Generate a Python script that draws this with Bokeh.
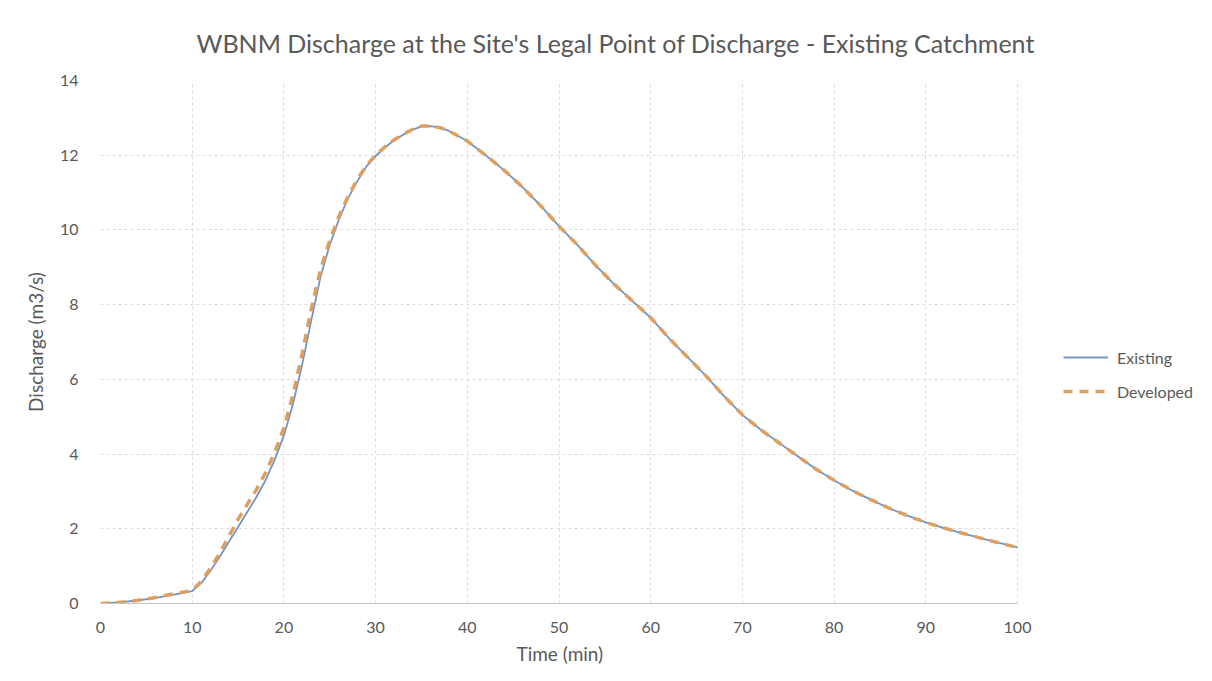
from bokeh.plotting import figure
from bokeh.models import Legend, LegendItem, FixedTicker, Range1d, Title
from bokeh.embed import file_html
from bokeh.resources import INLINE

# Data
time_min = [0, 2, 4, 6, 8, 10, 11, 12, 13, 14, 15, 16, 17, 18, 19, 20, 21, 22, 23, 24,
            25, 26, 27, 28, 29, 30, 31, 32, 33, 34, 35, 36, 37, 38, 40, 42, 44, 46, 48, 50,
            52, 54, 56, 58, 60, 62, 64, 66, 68, 70, 72, 74, 76, 78, 80, 82, 84, 86, 88, 90,
            92, 94, 96, 98, 100]
existing = [0.0, 0.03, 0.08, 0.15, 0.24, 0.33, 0.55, 0.88, 1.25, 1.65, 2.05, 2.45, 2.85, 3.3, 3.85, 4.5, 5.35, 6.4, 7.6, 8.75,
            9.6, 10.28, 10.85, 11.3, 11.7, 11.98, 12.2, 12.4, 12.55, 12.68, 12.77, 12.78, 12.74, 12.65, 12.38, 12.0, 11.6, 11.15, 10.65, 10.1,
            9.6, 9.05, 8.55, 8.1, 7.65, 7.1, 6.6, 6.1, 5.55, 5.05, 4.65, 4.3, 3.95, 3.6, 3.3, 3.02, 2.78, 2.55, 2.35, 2.17,
            2.02, 1.88, 1.75, 1.62, 1.5]
developed = [0.0, 0.03, 0.08, 0.16, 0.26, 0.35, 0.6, 0.95, 1.35, 1.8, 2.25, 2.65, 3.05, 3.5, 4.05, 4.7, 5.6, 6.7, 7.9, 8.95,
             9.72, 10.37, 10.9, 11.35, 11.72, 12.0, 12.22, 12.41, 12.56, 12.69, 12.78, 12.78, 12.74, 12.65, 12.38, 12.0, 11.6, 11.15, 10.65, 10.1,
             9.6, 9.05, 8.55, 8.1, 7.65, 7.1, 6.6, 6.1, 5.55, 5.05, 4.65, 4.3, 3.95, 3.6, 3.3, 3.02, 2.78, 2.55, 2.35, 2.17,
             2.02, 1.88, 1.75, 1.62, 1.5]
x_ticks = [0, 10, 20, 30, 40, 50, 60, 70, 80, 90, 100]
y_ticks = [0, 2, 4, 6, 8, 10, 12, 14]
title_text = "WBNM Discharge at the Site's Legal Point of Discharge - Existing Catchment"
x_label = "Time (min)"
y_label = "Discharge (m3/s)"

FONT = "Lato"
GRAY = "#595959"

# frame spans 100..1212 px; the data area (0..100 min) occupies 917 px of it,
# the rest on the right holds the legend
X_END = 100 * 1112 / 917

p = figure(width=1212, height=681, output_backend="svg", toolbar_location=None,
           x_range=Range1d(0, X_END), y_range=Range1d(0, 14),
           min_border_left=100, min_border_right=0, min_border_top=80, min_border_bottom=78)
p.outline_line_color = None
p.background_fill_color = "white"

p.title.text = title_text
p.title.align = "left"
p.title.offset = 96
p.title.standoff = 46
p.title.text_font = FONT
p.title.text_font_size = "25px"
p.title.text_font_style = "normal"
p.title.text_color = GRAY

# axes
for ax in (p.xaxis[0], p.yaxis[0]):
    ax.major_tick_line_color = None
    ax.minor_tick_line_color = None
    ax.major_label_text_font = FONT
    ax.major_label_text_font_size = "16px"
    ax.major_label_text_color = GRAY
    ax.axis_label_text_font = FONT
    ax.axis_label_text_font_size = "19px"
    ax.axis_label_text_font_style = "normal"
    ax.axis_label_text_color = GRAY
p.xaxis[0].ticker = FixedTicker(ticks=x_ticks)
p.yaxis[0].ticker = FixedTicker(ticks=y_ticks)
p.xaxis[0].bounds = (0, 100)
p.xaxis[0].axis_line_color = "#c4c4c4"
p.yaxis[0].axis_line_color = None
p.xaxis[0].major_label_standoff = 12
p.yaxis[0].major_label_standoff = 16
p.yaxis[0].axis_label = y_label
p.yaxis[0].axis_label_standoff = 10

# x-axis title, centred under the 0..100 data area (not the whole frame)
xt = Title(text=x_label, align="left", offset=416, standoff=8,
           text_font=FONT, text_font_size="19px", text_font_style="normal", text_color=GRAY)
p.add_layout(xt, "below")

for g in (p.xgrid[0], p.ygrid[0]):
    g.grid_line_color = "#dcdcdc"
    g.grid_line_dash = "3 3"
    g.grid_line_width = 1
p.xgrid[0].ticker = FixedTicker(ticks=x_ticks)
p.ygrid[0].ticker = FixedTicker(ticks=y_ticks)
p.ygrid[0].cross_bounds = (0, 100)

r_ex = p.line(time_min, existing, line_color="#7394c2", line_width=1.8)
r_dev = p.line(time_min, developed, line_color="#dea060", line_width=3.5, line_dash="9 7")

legend = Legend(items=[LegendItem(label="Existing", renderers=[r_ex]),
                       LegendItem(label="Developed", renderers=[r_dev])],
                location=(963, 202), orientation="vertical",
                label_text_font=FONT, label_text_font_size="16px", label_text_color=GRAY,
                glyph_width=45, glyph_height=20, label_height=20, spacing=14,
                label_standoff=9, padding=0, margin=0,
                border_line_color=None, background_fill_alpha=0)
p.add_layout(legend, "center")

open("out.html", "w").write(file_html(p, INLINE))
